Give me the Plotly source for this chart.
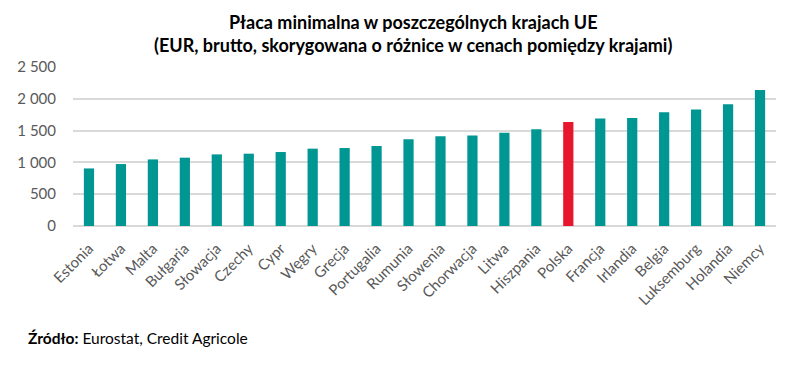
import plotly.graph_objects as go

countries = ["Estonia", "Łotwa", "Malta", "Bułgaria", "Słowacja", "Czechy", "Cypr", "Węgry",
             "Grecja", "Portugalia", "Rumunia", "Słowenia", "Chorwacja", "Litwa", "Hiszpania",
             "Polska", "Francja", "Irlandia", "Belgia", "Luksemburg", "Holandia", "Niemcy"]
wages = [905, 974, 1047, 1074, 1126, 1137, 1163, 1216, 1226, 1258, 1363, 1411, 1421, 1468,
         1521, 1637, 1689, 1700, 1789, 1832, 1916, 2137]
highlight = "Polska"
y_tickvals = [0, 500, 1000, 1500, 2000, 2500]
y_ticktext = ["0", "500", "1 000", "1 500", "2 000", "2 500"]

TEAL = "#009691"
RED = "#E8152E"
colors = [RED if c == highlight else TEAL for c in countries]

fig = go.Figure(go.Bar(x=countries, y=wages, marker_color=colors, marker_line_width=0))

FONT = "Lato, 'Noto Sans', sans-serif"
L, R, T, B = 73, 24, 67, 139
PW, PH = 800 - L - R, 365 - T - B
fig.update_layout(
    width=800, height=365,
    margin=dict(l=L, r=R, t=T, b=B, autoexpand=False),
    paper_bgcolor="white", plot_bgcolor="white",
    bargap=0.68,
    showlegend=False,
    font=dict(family=FONT, color="#595959", size=13),
)
fig.update_xaxes(
    tickangle=-45, showgrid=False, showline=False, ticks="", automargin=False,
    tickfont=dict(size=15, color="#595959"), ticklabelstandoff=10,
)
fig.update_yaxes(
    range=[0, 2500], tickvals=y_tickvals, ticktext=y_ticktext, automargin=False,
    showgrid=True, gridcolor="#D9D9D9", gridwidth=1.5, zeroline=True,
    zerolinecolor="#D9D9D9", zerolinewidth=1.5, showline=False, ticks="",
    ticklabelstandoff=16, tickfont=dict(size=15, color="#595959"),
)
fig.add_annotation(
    text="<b>Płaca minimalna w poszczególnych krajach UE</b>",
    xref="paper", yref="paper", x=(413 - L) / PW, y=(365 - 22 - B) / PH,
    xanchor="center", yanchor="middle", showarrow=False,
    font=dict(family=FONT, size=18, color="#000000"),
)
fig.add_annotation(
    text="<b>(EUR, brutto, skorygowana o różnice w cenach pomiędzy krajami)</b>",
    xref="paper", yref="paper", x=(413 - L) / PW, y=(365 - 45 - B) / PH,
    xanchor="center", yanchor="middle", showarrow=False,
    font=dict(family=FONT, size=18, color="#000000"),
)
fig.add_annotation(
    text="<b>Źródło:</b> Eurostat, Credit Agricole",
    xref="paper", yref="paper", x=(26 - L) / PW, y=(365 - 338 - B) / PH,
    xanchor="left", yanchor="middle",
    showarrow=False, font=dict(family=FONT, size=15.5, color="#000000"),
)
fig.write_html(
    "out.html",
    config={"displayModeBar": False},
    post_script="document.body.style.margin='0';document.body.style.overflow='hidden';",
)
